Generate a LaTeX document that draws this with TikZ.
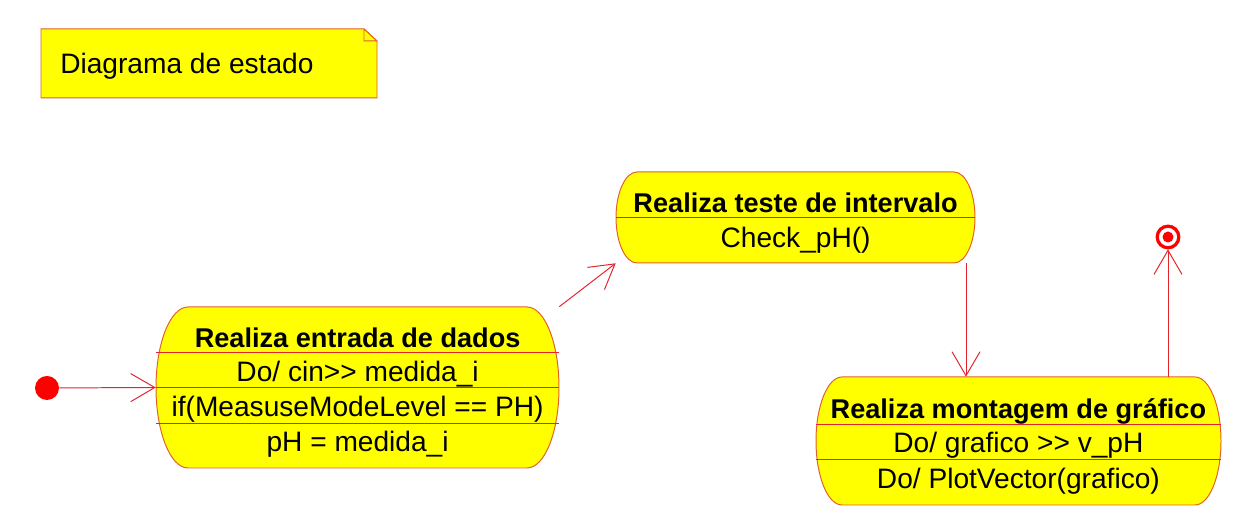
\documentclass[tikz,border=0pt]{standalone}
\usepackage{fontspec}
\setmainfont{Liberation Sans}
\usetikzlibrary{arrows.meta}
\definecolor{amarelo}{RGB}{255,255,0}
\definecolor{borda}{RGB}{226,96,44}
\definecolor{linha}{RGB}{228,36,44}
\tikzset{
	contorno/.style={draw=borda, fill=amarelo, line width=0.7pt},
	divisao/.style={draw=linha, line width=0.7pt},
	transicao/.style={draw=linha, line width=0.7pt, -{Straight Barb[length=0.6cm, width=0.7cm]}},
	estado/.style={rectangle, inner sep=0pt},
	texto/.style={anchor=base, inner sep=0pt, font=\fontsize{20}{24}\selectfont},
	titulo/.style={anchor=base, inner sep=0pt, font=\fontsize{19.3}{24}\selectfont\bfseries},
}
\begin{document}
\begin{tikzpicture}
			\useasboundingbox (0,0) rectangle (30.85,13);
			\draw[contorno] (1.025,12.275) -- (9.1,12.275) -- (9.425,11.975) -- (9.425,10.55) -- (1.025,10.55) -- cycle;
			\draw[contorno] (9.1,12.275) -- (9.1,11.975) -- (9.425,11.975) -- cycle;
			\node[texto, anchor=base west] (nota) at (1.5,11.15) {Diagrama de estado};

			\node[circle, fill=red, inner sep=0pt, minimum size=0.6cm] (inicio) at (1.175,3.3) {};

			\node[estado, minimum width=10.075cm, minimum height=4.025cm] (entrada) at (8.9375,3.3125) {};
			\draw[contorno] (4.7,5.325) -- (13.175,5.325) arc[start angle=90, end angle=-90, x radius=0.8, y radius=2.0125] -- (4.7,1.3) arc[start angle=270, end angle=90, x radius=0.8, y radius=2.0125] -- cycle;
			\draw[divisao] (3.9,4.175) -- (13.975,4.175);
			\draw[divisao] (3.9,3.3) -- (13.975,3.3);
			\draw[divisao] (3.9,2.425) -- (13.975,2.425);
			\node[titulo] (entrada-nome) at (8.94,4.3) {Realiza entrada de dados};
			\node[texto] (entrada-do) at (8.94,3.45) {Do/ cin>{}> medida\_i};
			\node[texto] (entrada-if) at (8.94,2.575) {if(MeasuseModeLevel == PH)};
			\node[texto] (entrada-ph) at (8.94,1.7) {pH = medida\_i};

			\node[estado, minimum width=8.975cm, minimum height=2.275cm] (teste) at (19.8875,7.5625) {};
			\draw[contorno] (15.925,8.7) -- (23.85,8.7) arc[start angle=90, end angle=-90, x radius=0.525, y radius=1.1375] -- (15.925,6.425) arc[start angle=270, end angle=90, x radius=0.525, y radius=1.1375] -- cycle;
			\draw[divisao] (15.4,7.55) -- (24.375,7.55);
			\node[titulo] (teste-nome) at (19.89,7.69) {Realiza teste de intervalo};
			\node[texto] (teste-check) at (19.89,6.8) {Check\_pH()};

			\node[estado, minimum width=10.125cm, minimum height=3.2cm] (montagem) at (25.4625,1.975) {};
			\draw[contorno] (21.05,3.575) -- (29.875,3.575) arc[start angle=90, end angle=-90, x radius=0.65, y radius=1.6] -- (21.05,0.375) arc[start angle=270, end angle=90, x radius=0.65, y radius=1.6] -- cycle;
			\draw[divisao] (20.4,2.4) -- (30.525,2.4);
			\draw[divisao] (20.4,1.525) -- (30.525,1.525);
			\node[titulo] (montagem-nome) at (25.46,2.54) {Realiza montagem de gráfico};
			\node[texto] (montagem-do) at (25.46,1.69) {Do/ grafico >{}> v\_pH};
			\node[texto] (montagem-plot) at (25.46,0.79) {Do/ PlotVector(grafico)};

			\node[circle, draw=red, line width=2.3pt, inner sep=0pt, minimum size=0.54cm] (fim) at (29.2,7.075) {};
			\fill[red] (fim) circle (0.1375);

			\coordinate (desce) at (24.15,6.425);
			\draw[transicao] (inicio) -- (entrada.west);
			\draw[transicao] (entrada.north east) -- (teste.south west);
			\draw[transicao] (desce) -- (desce |- montagem.north);
			\draw[transicao] (fim |- montagem.north) -- (fim);
		\end{tikzpicture}
\end{document}
